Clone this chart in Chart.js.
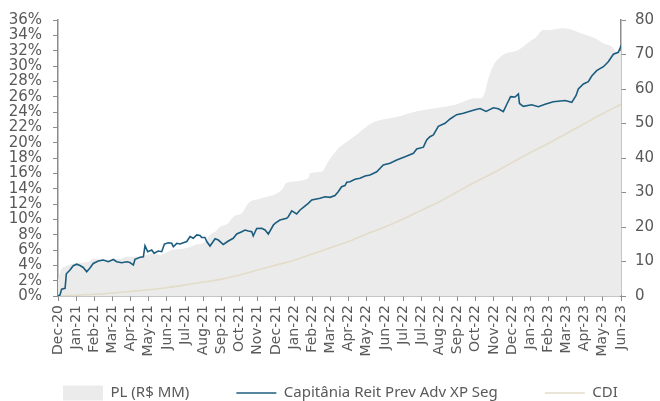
<!DOCTYPE html>
<html>
<head>
<meta charset="utf-8">
<script src="https://cdn.jsdelivr.net/npm/chart.js@4"></script>
<style>
  html, body { margin: 0; padding: 0; background: #ffffff; }
  #wrap { width: 660px; height: 401px; position: relative; }
</style>
</head>
<body>
<div id="wrap"><canvas id="c" width="660" height="401"></canvas></div>
<script>
// ---- Data ----
const monthLabels = ["Dec-20","Jan-21","Feb-21","Mar-21","Apr-21","May-21","Jun-21","Jul-21","Aug-21","Sep-21","Oct-21","Nov-21","Dec-21","Jan-22","Feb-22","Mar-22","Apr-22","May-22","Jun-22","Jul-22","Jul-22","Aug-22","Sep-22","Oct-22","Nov-22","Dec-22","Jan-23","Feb-23","Mar-23","Apr-23","May-23","Jun-23"];

const seriesNames = ["Capitânia Reit Prev Adv XP Seg", "CDI", "PL (R$ MM)"];

// Fund cumulative return (%), position in months since Dec-20
const fundX = [0.00,0.11,0.20,0.39,0.46,0.66,0.84,1.03,1.21,1.39,1.58,1.76,1.94,2.22,2.49,2.77,3.05,3.23,3.51,3.78,3.96,4.15,4.24,4.52,4.70,4.79,4.94,5.16,5.29,5.52,5.71,5.86,6.07,6.26,6.35,6.54,6.72,6.90,7.09,7.27,7.45,7.64,7.82,7.91,8.09,8.20,8.37,8.65,8.83,9.10,9.38,9.65,9.84,10.12,10.30,10.48,10.67,10.75,10.94,11.22,11.40,11.58,11.86,11.95,12.22,12.59,12.68,12.87,13.14,13.33,13.51,13.78,13.97,14.43,14.70,14.98,15.25,15.43,15.53,15.62,15.80,15.90,16.08,16.35,16.63,16.91,17.18,17.55,17.91,18.28,18.65,19.11,19.57,19.75,20.12,20.30,20.48,20.67,20.94,21.31,21.59,21.95,22.32,22.59,22.96,23.24,23.57,23.97,24.25,24.52,24.72,24.92,25.17,25.35,25.41,25.62,26.08,26.45,26.82,27.27,27.92,28.29,28.52,28.65,28.93,29.20,29.39,29.66,30.03,30.30,30.58,30.85,30.97,31.00];
const fundValues = [0.00,0.13,0.90,1.00,2.90,3.40,3.95,4.15,3.98,3.72,3.17,3.65,4.24,4.57,4.70,4.47,4.76,4.47,4.34,4.47,4.37,4.04,4.79,5.05,5.10,6.55,5.78,6.00,5.57,5.87,5.78,6.78,6.95,6.87,6.43,6.87,6.78,6.95,7.11,7.76,7.53,7.96,7.89,7.63,7.63,7.08,6.52,7.46,7.30,6.72,7.17,7.53,8.09,8.39,8.61,8.48,8.39,7.83,8.80,8.83,8.61,8.09,9.26,9.48,9.91,10.13,10.34,11.11,10.70,11.22,11.57,12.09,12.52,12.74,12.95,12.87,13.11,13.60,13.96,14.26,14.41,14.83,14.91,15.22,15.35,15.65,15.78,16.21,17.09,17.31,17.74,18.17,18.61,19.17,19.41,20.35,20.78,21.00,22.13,22.53,23.09,23.65,23.83,24.04,24.30,24.46,24.07,24.55,24.42,24.04,25.04,26.00,25.96,26.35,25.11,24.74,24.95,24.69,25.00,25.34,25.50,25.26,26.13,27.00,27.65,27.95,28.70,29.39,29.91,30.56,31.53,31.79,32.44,32.70];

// CDI cumulative (%), one value per month tick
const cdiValues = [0.00,0.10,0.22,0.40,0.60,0.82,1.08,1.45,1.82,2.20,2.75,3.40,4.03,4.67,5.48,6.30,7.10,8.10,9.00,10.04,11.17,12.30,13.60,14.90,16.10,17.40,18.70,19.90,21.20,22.50,23.80,25.00];

// Net assets (R$ MM), right axis
const plX = [0.00,0.15,0.39,0.94,1.67,1.94,2.59,3.51,3.78,4.42,5.34,5.62,6.26,7.09,7.54,8.09,8.37,8.65,8.92,9.38,9.65,10.12,10.48,11.22,12.32,12.59,13.78,13.88,14.52,14.88,15.43,15.80,16.54,17.27,18.74,19.66,20.76,21.86,22.96,23.33,23.51,23.70,23.97,24.52,25.35,26.08,26.27,26.72,27.00,27.83,28.84,29.75,30.03,30.49,30.76,31.00];
const plValues = [4.5,7.5,8.5,9.5,9.9,10.9,10.6,10.9,11.4,11.4,12.5,11.9,13.3,13.9,14.8,15.7,17.7,18.6,20.1,21.1,23.0,24.0,26.9,28.3,30.7,32.8,34.1,35.6,36.0,38.9,42.8,44.3,47.2,50.1,52.0,53.4,54.4,55.4,57.3,57.3,59.2,63.1,66.8,69.9,71.3,74.2,74.7,77.1,77.1,77.6,76.1,74.2,73.2,72.3,70.8,71.0];

const leftTicks = { min: 0, max: 36, step: 2 };
const rightTicks = { min: 0, max: 80, step: 10 };

// ---- Build chart ----
const pts = (xs, ys) => xs.map((x, i) => ({ x: x, y: ys[i] }));
const cdiPts = cdiValues.map((v, i) => ({ x: i, y: v }));

const axisColor = '#8c8c8c';
const textColor = '#595959';
const tickFont = { family: 'DejaVu Sans', size: 15, lineHeight: 1 };

// move the legend row to where the reference has it
const legendShift = {
  id: 'legendShift',
  afterLayout(chart) {
    const l = chart.legend;
    if (!l) return;
    const dy = 338.5 - l.top;
    l.top += dy; l.bottom += dy;
    l.left += 16; l.right += 16;
  }
};

new Chart(document.getElementById('c'), {
  type: 'line',
  plugins: [legendShift],
  data: {
    datasets: [
      {
        label: seriesNames[0],
        data: pts(fundX, fundValues),
        yAxisID: 'y',
        borderColor: '#1c5d7f',
        backgroundColor: '#1c5d7f',
        borderWidth: 1.6,
        pointRadius: 0,
        tension: 0,
        pointStyle: 'line',
        fill: false
      },
      {
        label: seriesNames[1],
        data: cdiPts,
        yAxisID: 'y',
        borderColor: '#e3dcc8',
        backgroundColor: '#e3dcc8',
        borderWidth: 1.6,
        pointRadius: 0,
        tension: 0.4,
        cubicInterpolationMode: 'monotone',
        pointStyle: 'line',
        fill: false
      },
      {
        label: seriesNames[2],
        data: pts(plX, plValues),
        yAxisID: 'y1',
        borderColor: 'rgba(0,0,0,0)',
        backgroundColor: '#ebebeb',
        borderWidth: 0,
        pointRadius: 0,
        tension: 0.4,
        cubicInterpolationMode: 'monotone',
        pointStyle: 'rect',
        fill: 'origin'
      }
    ]
  },
  options: {
    responsive: false,
    animation: false,
    devicePixelRatio: 1,
    layout: { padding: { top: 20, left: 0, right: 0, bottom: -29 } },
    plugins: {
      tooltip: { enabled: false },
      legend: {
        position: 'bottom',
        align: 'start',
        labels: {
          usePointStyle: true,
          pointStyleWidth: 40,
          boxHeight: 15,
          padding: 47,
          color: textColor,
          font: { family: 'Noto Sans', size: 15 },
          sort: (a, b) => [2, 0, 1].indexOf(a.datasetIndex) - [2, 0, 1].indexOf(b.datasetIndex)
        }
      }
    },
    scales: {
      x: {
        type: 'linear',
        min: 0,
        max: monthLabels.length - 1,
        offset: false,
        afterFit: (s) => { s.height = 62; },
        ticks: {
          stepSize: 1,
          autoSkip: false,
          maxRotation: 90,
          minRotation: 90,
          padding: 4,
          color: textColor,
          font: { family: 'DejaVu Sans', size: 14 },
          callback: (v) => monthLabels[Math.round(v)] ?? ''
        },
        grid: { display: true, drawOnChartArea: false, drawTicks: true, tickLength: 5, color: axisColor },
        border: { display: true, color: axisColor, width: 1.5 }
      },
      y: {
        position: 'left',
        min: leftTicks.min,
        max: leftTicks.max,
        afterFit: (s) => { s.width = 58; },
        ticks: {
          stepSize: leftTicks.step,
          autoSkip: false,
          padding: 11,
          color: textColor,
          font: tickFont,
          callback: (v) => v + '%'
        },
        grid: { display: true, drawOnChartArea: false, drawTicks: true, tickLength: 5, color: axisColor },
        border: { display: true, color: axisColor, width: 1.5 }
      },
      y1: {
        position: 'right',
        min: rightTicks.min,
        max: rightTicks.max,
        afterFit: (s) => { s.width = 39; },
        ticks: {
          stepSize: rightTicks.step,
          autoSkip: false,
          padding: 9,
          color: textColor,
          font: tickFont
        },
        grid: { display: true, drawOnChartArea: false, drawTicks: true, tickLength: 5, color: axisColor },
        border: { display: true, color: axisColor, width: 1.5 }
      }
    }
  }
});
</script>
</body>
</html>
